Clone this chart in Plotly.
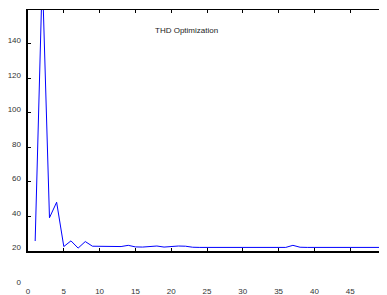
import plotly.graph_objects as go

# Data
x_vals = list(range(1, 51))
thd_vals = [25.5, 180, 39, 48, 22.3, 25.6, 21.4, 25.2, 22.5, 22.5,
            22.3, 22.2, 22.3, 23.0, 22.1, 22.0, 22.5, 22.6, 22.0, 22.5,
            22.6, 22.5, 21.9, 21.8, 21.8, 21.8, 21.8, 21.8, 21.8, 21.8,
            21.8, 21.8, 21.8, 21.8, 21.8, 21.8, 23.0, 21.9, 21.8, 21.8,
            21.8, 21.8, 21.8, 21.8, 21.8, 21.8, 21.8, 21.8, 21.8, 21.8]
x_ticks = [0, 5, 10, 15, 20, 25, 30, 35, 40, 45, 50]
y_ticks = [0, 20, 40, 60, 80, 100, 120, 140]
title_text = "THD Optimization"

Y_MAX = 159.5
Y_FRAME_MIN = 20

fig = go.Figure()
# data line inside the frame subplot
fig.add_trace(go.Scatter(x=x_vals, y=thd_vals, mode="lines", xaxis="x2", yaxis="y2",
                         line=dict(color="#0000ff", width=1),
                         showlegend=False, hoverinfo="skip"))
# empty traces so the label axes and mirror axes are rendered
for xa, ya in [("x", "y"), ("x3", "y2"), ("x2", "y3")]:
    fig.add_trace(go.Scatter(x=[], y=[], xaxis=xa, yaxis=ya, showlegend=False,
                             hoverinfo="skip"))

label_font = dict(family="Liberation Sans, Arial, sans-serif", size=8, color="#333333")
frame_common = dict(showticklabels=False, showline=True, linecolor="black",
                    ticks="inside", ticklen=3, tickcolor="black", tickwidth=1,
                    showgrid=False, zeroline=False, automargin=False)

# page body has an 8px margin, so the figure is offset to compensate;
# the last x label runs past the window edge as in the reference
fig.update_layout(
    width=387, height=287,
    margin=dict(l=20, r=9, t=2, b=10),
    paper_bgcolor="white", plot_bgcolor="rgba(0,0,0,0)",
    showlegend=False,
    # label-only axes (full range down to 0)
    xaxis=dict(range=[0, 50], tickvals=x_ticks, showline=False, showgrid=False,
               zeroline=False, ticks="", tickfont=label_font, automargin=False,
               ticklabeloverflow="allow"),
    yaxis=dict(range=[0, Y_MAX], tickvals=y_ticks, showline=False, showgrid=False,
               zeroline=False, ticks="", tickfont=label_font, ticklabelstandoff=6,
               ticklabelshift=-3, automargin=False),
    # frame axes: bottom/left thick
    xaxis2=dict(range=[0, 50], anchor="y2", tickvals=x_ticks, linewidth=2, **frame_common),
    yaxis2=dict(range=[Y_FRAME_MIN, Y_MAX], domain=[Y_FRAME_MIN / Y_MAX, 1], anchor="x2",
                dtick=20, tick0=0, linewidth=2, **frame_common),
    # frame axes: top/right thin
    xaxis3=dict(range=[0, 50], anchor="y2", overlaying="x2", side="top", tickvals=x_ticks,
                linewidth=1, **frame_common),
    yaxis3=dict(range=[Y_FRAME_MIN, Y_MAX], anchor="x2", overlaying="y2", side="right",
                dtick=20, tick0=0, linewidth=1, **frame_common),
    annotations=[dict(text=title_text, xref="paper", yref="paper", x=0.443, y=0.924,
                      showarrow=False, xanchor="center", yanchor="middle",
                      font=dict(family="Liberation Sans, Arial, sans-serif", size=8,
                                color="#222222"))],
)

fig.write_html("out.html")
